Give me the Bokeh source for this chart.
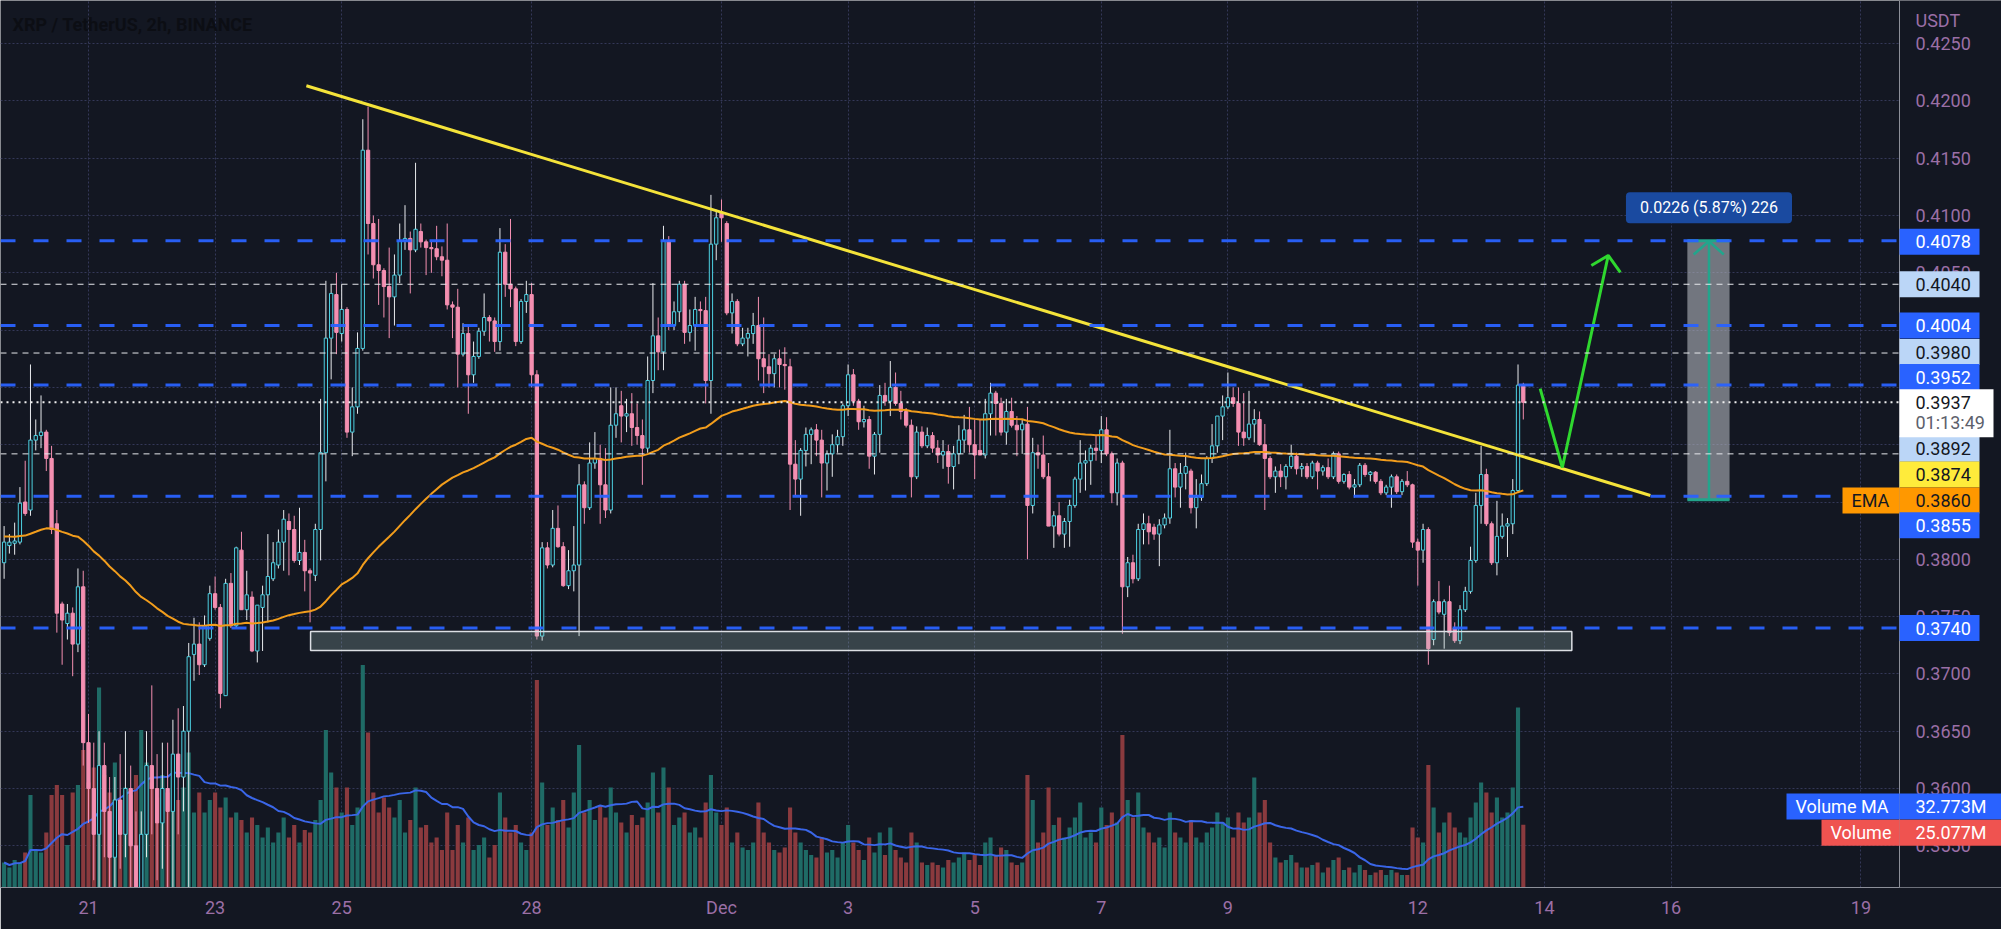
import numpy as np
import pandas as pd
from bokeh.plotting import figure
from bokeh.models import ColumnDataSource, Range1d, FixedTicker, Label, Span, BoxAnnotation
from bokeh.core.properties import value
from bokeh.embed import file_html
from bokeh.resources import INLINE

# ---------------- data (prices in 1e-4 USDT, volume in millions) ----------------
open_ = [3797,3812,3814,3815,3850,3843,3904,3908,3911,3888,
3831,3761,3744,3753,3726,3776,3640,3600,3560,3620,
3580,3540,3590,3560,3600,3550,3500,3560,3620,3600,
3570,3600,3580,3630,3610,3650,3717,3726,3708,3731,
3770,3758,3681,3779,3742,3808,3756,3767,3720,3758,
3769,3783,3795,3815,3833,3826,3799,3806,3790,3786,
3826,3893,3993,4031,3997,4018,3911,3933,3984,4157,
4093,4057,4052,4038,4029,4048,4078,4080,4070,4086,
4077,4072,4071,4064,4061,4022,4020,3979,3997,3961,
3977,3999,4011,4008,3990,4068,4040,4036,3990,4025,
4031,3961,3733,3810,3795,3827,3811,3777,3790,3795,
3865,3845,3884,3888,3865,3843,3917,3934,3925,3927,
3915,3908,3897,3956,3995,3981,4078,4004,4016,4040,
3998,4004,4018,4017,3956,4075,4103,4093,4015,4025,
3988,3993,3997,4004,3975,3968,3962,3975,3970,3968,
3883,3870,3895,3909,3913,3904,3884,3892,3900,3907,
3934,3961,3938,3920,3922,3890,3909,3943,3938,3950,
3936,3929,3917,3872,3911,3899,3908,3897,3891,3894,
3881,3892,3904,3913,3900,3895,3891,3927,3945,3936,
3911,3929,3917,3913,3918,3847,3893,3891,3872,3829,
3838,3822,3833,3847,3870,3884,3886,3897,3895,3913,
3892,3858,3884,3776,3797,3783,3826,3831,3828,3822,
3830,3836,3879,3863,3875,3877,3845,3854,3866,3888,
3899,3925,3933,3941,3936,3911,3906,3918,3922,3900,
3888,3872,3877,3872,3881,3890,3879,3881,3872,3884,
3877,3880,3872,3892,3868,3874,3863,3865,3882,3874,
3876,3868,3858,3863,3872,3859,3868,3865,3815,3808,
3826,3730,3763,3752,3763,3740,3729,3756,3772,3799,
3847,3874,3831,3797,3820,3829,3831,3860,3952]

high_ = [3829,3822,3832,3863,3886,3970,3922,3943,3913,3899,
3843,3763,3761,3758,3792,3790,3665,3640,3650,3640,
3610,3610,3630,3650,3620,3580,3580,3650,3690,3630,
3640,3640,3660,3670,3672,3727,3749,3745,3751,3777,
3785,3761,3783,3788,3811,3824,3790,3772,3760,3777,
3822,3815,3826,3843,3840,3838,3845,3817,3792,3831,
3940,4043,4040,4050,4040,4020,3950,3998,4184,4195,
4100,4097,4054,4072,4066,4093,4109,4086,4146,4093,
4079,4077,4091,4073,4093,4025,4036,4006,4004,3990,
4002,4032,4013,4011,4089,4075,4097,4038,4027,4043,
4041,3965,3815,3815,3843,3847,3815,3808,3829,3883,
3868,3902,3911,3900,3897,3950,3950,3947,3940,3945,
3936,3922,3977,4041,4011,4091,4082,4025,4043,4043,
4018,4029,4025,4029,4118,4105,4114,4095,4032,4027,
4002,4002,4015,4029,4011,3979,3979,3983,3985,3975,
3904,3897,3915,3915,3918,3913,3895,3909,3913,3936,
3970,3966,3940,3934,3925,3911,3952,3954,3973,3963,
3947,3932,3922,3916,3916,3915,3911,3904,3904,3900,
3899,3917,3926,3933,3922,3922,3940,3954,3947,3941,
3940,3941,3925,3922,3933,3906,3900,3908,3884,3842,
3850,3836,3852,3872,3904,3895,3900,3908,3925,3924,
3894,3888,3886,3802,3804,3831,3840,3838,3831,3835,
3840,3913,3884,3884,3893,3879,3870,3874,3890,3918,
3925,3943,3963,3950,3950,3945,3947,3931,3929,3918,
3890,3881,3883,3883,3900,3893,3884,3884,3886,3886,
3882,3888,3894,3894,3875,3877,3870,3884,3884,3877,
3877,3870,3865,3874,3874,3870,3877,3866,3818,3831,
3828,3765,3781,3765,3777,3745,3760,3776,3811,3858,
3899,3879,3833,3851,3840,3836,3870,3970,3954]

low_ = [3783,3805,3804,3813,3838,3838,3895,3897,3877,3822,
3736,3708,3730,3698,3719,3620,3570,3520,3480,3540,
3500,3480,3530,3540,3490,3420,3400,3540,3560,3520,
3530,3480,3500,3560,3580,3500,3694,3699,3706,3729,
3756,3670,3681,3740,3740,3756,3747,3719,3710,3720,
3745,3781,3792,3790,3786,3797,3795,3772,3745,3781,
3799,3868,3957,3979,3990,3906,3890,3927,3982,4066,
4045,4022,4011,3993,4004,4041,4070,4032,4068,4072,
4048,4050,4061,4047,4018,3993,3950,3977,3927,3954,
3975,3995,3990,3981,3982,4029,4020,3986,3988,4015,
3950,3730,3729,3792,3793,3810,3776,3774,3772,3733,
3831,3843,3879,3831,3836,3840,3906,3902,3911,3899,
3900,3865,3893,3945,3965,3965,4000,4000,4007,3988,
3990,3982,4004,3936,3927,4061,4077,4013,3997,3986,
3986,3977,3988,3956,3945,3950,3950,3950,3948,3843,
3856,3838,3881,3883,3890,3854,3860,3872,3893,3899,
3925,3934,3913,3915,3879,3874,3893,3934,3925,3934,
3922,3915,3854,3870,3897,3897,3893,3884,3879,3866,
3861,3883,3893,3893,3870,3891,3888,3908,3908,3908,
3900,3915,3890,3892,3800,3840,3879,3870,3829,3810,
3820,3810,3811,3845,3858,3860,3865,3886,3884,3890,
3849,3847,3735,3767,3779,3781,3813,3813,3817,3794,
3827,3831,3854,3845,3861,3840,3827,3851,3864,3884,
3893,3904,3931,3933,3899,3899,3904,3902,3899,3843,
3870,3858,3863,3861,3879,3874,3872,3870,3870,3861,
3873,3870,3870,3866,3866,3861,3854,3863,3872,3868,
3866,3856,3856,3845,3857,3856,3863,3810,3777,3797,
3708,3725,3752,3722,3733,3727,3726,3754,3770,3797,
3831,3829,3795,3786,3818,3802,3822,3858,3922]

close_ = [3815,3815,3816,3849,3840,3904,3908,3911,3888,3826,
3753,3747,3753,3726,3776,3640,3600,3560,3620,3580,
3540,3590,3560,3600,3550,3500,3560,3620,3600,3570,
3600,3580,3630,3610,3650,3715,3726,3708,3742,3770,
3758,3683,3779,3742,3810,3756,3769,3720,3760,3769,
3785,3797,3815,3835,3826,3799,3806,3790,3788,3826,
3893,3993,4032,3998,4018,3911,3933,3984,4157,4093,
4057,4052,4038,4029,4048,4078,4080,4070,4088,4077,
4072,4071,4064,4061,4022,4020,3979,3997,3961,3977,
3999,4011,4008,3990,4068,4040,4036,3990,4025,4031,
3961,3733,3810,3795,3827,3811,3777,3790,3795,3865,
3845,3884,3888,3865,3843,3917,3927,3925,3927,3915,
3908,3897,3956,3995,3981,4078,4004,4016,4040,3998,
4004,4018,4017,3956,4075,4098,4098,4015,4025,3988,
3993,3997,4004,3975,3968,3962,3975,3970,3969,3883,
3870,3895,3909,3913,3904,3884,3892,3900,3907,3934,
3961,3938,3920,3922,3890,3909,3943,3938,3950,3936,
3929,3917,3872,3911,3899,3908,3897,3891,3894,3881,
3892,3904,3913,3900,3891,3891,3927,3945,3936,3911,
3929,3917,3913,3918,3847,3893,3891,3872,3829,3838,
3822,3833,3847,3870,3884,3886,3897,3895,3913,3892,
3858,3884,3776,3797,3783,3826,3831,3824,3822,3830,
3836,3879,3863,3875,3881,3845,3854,3866,3888,3899,
3925,3933,3941,3936,3911,3906,3918,3922,3900,3888,
3872,3877,3872,3881,3890,3879,3881,3872,3884,3877,
3880,3872,3892,3868,3874,3863,3865,3882,3874,3876,
3868,3858,3863,3872,3859,3868,3865,3815,3808,3826,
3722,3763,3754,3763,3736,3729,3756,3772,3799,3847,
3874,3831,3797,3820,3829,3831,3860,3952,3937]

volume = [10,8,11,10,14,37,15,14,22,37,
41,37,17,38,41,55,42,48,80,45,
38,50,35,40,37,45,63,50,42,36,
45,38,52,35,40,54,30,38,30,35,
38,32,36,28,30,27,22,28,25,20,
24,18,22,28,20,25,18,23,22,27,
35,63,46,40,30,40,25,32,89,62,
38,30,36,32,28,35,22,27,40,24,
25,18,20,15,30,15,25,18,28,15,
17,20,12,17,38,28,22,25,18,15,
22,83,42,25,32,27,35,24,38,57,
30,35,27,33,28,40,30,26,22,29,
25,28,34,46,30,48,40,25,28,30,
22,24,20,34,45,30,25,32,18,22,
16,15,18,34,22,18,15,14,16,32,
22,18,15,13,12,20,14,15,12,18,
25,18,15,11,20,14,22,13,24,15,
12,10,22,18,10,9,10,9,8,11,
10,12,14,11,13,9,18,20,13,16,
15,10,9,10,45,35,18,22,40,25,
28,20,24,28,34,20,22,18,32,25,
30,26,61,35,28,38,24,22,18,20,
16,30,22,20,18,27,20,18,22,24,
30,26,28,20,30,26,28,44,30,35,
18,12,10,11,13,10,8,8,9,10,
6,8,11,12,7,8,6,9,7,5,
6,7,5,7,6,5,5,24,20,18,
49,32,22,26,30,24,22,20,28,34,
42,38,30,36,28,30,40,72,25.077]

first_bar = "2022-11-19 16:00"
tick_dates = ["2022-11-21", "2022-11-23", "2022-11-25", "2022-11-28", "2022-12-01", "2022-12-03",
              "2022-12-05", "2022-12-07", "2022-12-09", "2022-12-12", "2022-12-14", "2022-12-16", "2022-12-19"]
tick_labels = ["21", "23", "25", "28", "Dec", "3", "5", "7", "9", "12", "14", "16", "19"]
price_ticks = [0.355, 0.360, 0.365, 0.370, 0.375, 0.380, 0.385, 0.390, 0.395, 0.400,
               0.405, 0.410, 0.415, 0.420, 0.425]

ema_seed = 0.3820
ema_len = 100
vol_ma_len = 20

blue_levels = [0.4078, 0.4004, 0.3952, 0.3855, 0.3740]
white_levels = [0.4040, 0.3980, 0.3892]
last_price = 0.3937
countdown = "01:13:49"

trend_x = [57.3, 312.1]
trend_y = [0.42132, 0.38557]
arrow_x = [291.2, 295.4, 304.1]
arrow_y = [0.39490, 0.38801, 0.40651]
head_x = [300.9, 304.1, 306.4]
head_y = [0.40564, 0.40651, 0.40503]
zone = dict(left=58.1, right=297.2, bottom=0.37204, top=0.37370)
meas = dict(left=319.1, right=327.1, bottom=0.3852, top=0.4078, mid=323.2)
meas_text = "0.0226 (5.87%) 226"
meas_head_x = [320.3, 323.2, 326.0]
meas_head_y = [0.40660, 0.40775, 0.40660]

# price-scale tags: (value, background, text colour, pixel shift up)
price_tags = [
    (0.4078, "#2962ff", "#ffffff", -1),
    (0.4040, "#bbd6f7", "#131722", 0),
    (0.4004, "#2962ff", "#ffffff", 0),
    (0.3980, "#bbd6f7", "#131722", 1),
    (0.3952, "#2962ff", "#ffffff", 8),
    (0.3892, "#bbd6f7", "#131722", 5),
    (0.3874, "#ffeb3b", "#131722", 0),
    (0.3860, "#ff9800", "#131722", -10),
    (0.3855, "#2962ff", "#ffffff", -29),
    (0.3740, "#2962ff", "#ffffff", 0),
]
vol_ma_value = 32.773
vol_last_value = 25.077

# ---------------- derived ----------------
n = min(len(open_), len(high_), len(low_), len(close_), len(volume))
o = np.array(open_[:n]) / 1e4
h = np.array(high_[:n]) / 1e4
l = np.array(low_[:n]) / 1e4
c = np.array(close_[:n]) / 1e4
v = np.array(volume[:n], dtype=float)
x = np.arange(n, dtype=float)
up = c >= o

alpha = 2.0 / (ema_len + 1)
ema = []
e = ema_seed
for cc in c:
    e = e + alpha * (cc - e)
    ema.append(e)
vma = [float(np.mean(v[max(0, k - vol_ma_len + 1):k + 1])) for k in range(n)]

start = pd.Timestamp(first_bar)
bar = pd.Timedelta(hours=2)
tick_pos = [int(round((pd.Timestamp(d) - start) / bar)) for d in tick_dates]

BG = "#131722"
CYAN = "#4dd0e1"
PINK = "#f48fb1"
PURPLE = "#9b6fa6"
BLUE = "#2962ff"
AXIS = "#8c8f99"
W, FH, BOTTOM = 2001, 887, 42
PX_PER_BAR = 5.275
BAR0_PX = 3.6
PX_PER_PRICE = 11460.0
PX_PER_VOL = 2.5
PANE_W = 1899                      # price pane width; the rest is the price scale
Y_TOP = 0.41 + 215 / PX_PER_PRICE
Y_BOT = Y_TOP - FH / PX_PER_PRICE


def px_x(px):
    return (px - BAR0_PX) / PX_PER_BAR


AXIS_X = px_x(PANE_W)

p = figure(frame_width=W, frame_height=FH,
           x_range=Range1d(px_x(0), px_x(W)), y_range=Range1d(Y_BOT, Y_TOP),
           output_backend="svg", toolbar_location=None, y_axis_location=None,
           min_border_left=0, min_border_top=0, min_border_right=0, min_border_bottom=BOTTOM,
           background_fill_color=BG, border_fill_color=BG, outline_line_color=None)
p.extra_y_ranges = {"vol": Range1d(0, FH / PX_PER_VOL)}

# grid
p.xgrid.ticker = FixedTicker(ticks=tick_pos)
p.ygrid.ticker = FixedTicker(ticks=price_ticks)
for g in (p.xgrid, p.ygrid):
    g.grid_line_color = "#343858"
    g.grid_line_dash = "2 2"
    g.grid_line_width = 1

# time axis
xa = p.xaxis[0]
xa.ticker = FixedTicker(ticks=tick_pos)
xa.major_label_overrides = {t: lab for t, lab in zip(tick_pos, tick_labels)}
xa.major_label_text_color = PURPLE
xa.major_label_text_font = "Roboto"
xa.major_label_text_font_size = "18px"
xa.major_tick_line_color = None
xa.minor_tick_line_color = None
xa.major_tick_out = 0
xa.major_tick_in = 0
xa.axis_line_color = AXIS
xa.major_label_standoff = 9

# volume
vol_colors = ["#1f6b66" if u else "#8a3a3e" for u in up]
p.vbar(x=x, width=0.78, top=v, bottom=0, y_range_name="vol",
       fill_color=vol_colors, line_color=None)
p.line(x, vma, y_range_name="vol", line_color="#3a66e8", line_width=2)

# candles
src_up = ColumnDataSource(dict(x=x[up], o=o[up], h=h[up], l=l[up], c=c[up]))
src_dn = ColumnDataSource(dict(x=x[~up], o=o[~up], h=h[~up], l=l[~up], c=c[~up]))
p.segment(x0="x", y0="l", x1="x", y1="h", source=src_up, line_color="#e8eaed", line_width=1)
p.segment(x0="x", y0="l", x1="x", y1="h", source=src_dn, line_color=PINK, line_width=1)
p.vbar(x="x", width=0.62, top="c", bottom="o", source=src_up, fill_color=BG, line_color=CYAN, line_width=1)
p.vbar(x="x", width=0.62, top="o", bottom="c", source=src_dn, fill_color=PINK, line_color=PINK, line_width=1)

# EMA
p.line(x, ema, line_color="#f29d1c", line_width=2)

# support zone
p.quad(left=[zone["left"]], right=[zone["right"]], bottom=[zone["bottom"]], top=[zone["top"]],
       fill_color="#a5c8bf", fill_alpha=0.25, line_color="#dcdfe4", line_width=1.5)

# levels
for lv in white_levels:
    p.add_layout(Span(location=lv, dimension="width", line_color="#e6e8ec", line_width=1, line_dash="6 5"))
p.add_layout(Span(location=last_price, dimension="width", line_color="#f0f0f0", line_width=2, line_dash="2 4"))
for lv in blue_levels:
    p.add_layout(Span(location=lv, dimension="width", line_color=BLUE, line_alpha=0.95, line_width=3, line_dash="15 18"))

# trend line and projection arrow
p.line(trend_x, trend_y, line_color="#f4e33a", line_width=3)
p.line(arrow_x, arrow_y, line_color="#2fd82f", line_width=3)
p.line(head_x, head_y, line_color="#2fd82f", line_width=3)

# measurement
p.quad(left=[meas["left"]], right=[meas["right"]], bottom=[meas["bottom"]], top=[meas["top"]],
       fill_color="#b2b5be", fill_alpha=0.6, line_color=None)
p.segment(x0=[meas["left"], meas["left"]], x1=[meas["right"], meas["right"]],
          y0=[meas["bottom"], meas["top"]], y1=[meas["bottom"], meas["top"]], line_color="#22a58c", line_width=3)
p.segment(x0=[meas["mid"]], x1=[meas["mid"]], y0=[meas["bottom"]], y1=[meas["top"]], line_color="#22a58c", line_width=2.5)
p.line(meas_head_x, meas_head_y, line_color="#22a58c", line_width=2.5)
p.add_layout(Label(x=meas["mid"], y=meas["top"] + 33 / PX_PER_PRICE, text=meas_text, text_align="center",
                   text_baseline="middle", text_font="Roboto", text_font_size="16px", text_color="#ffffff",
                   background_fill_color="#1a4aa0",
                   padding=dict(left=14, right=14, top=6, bottom=6), border_radius=4))

# ---------------- price scale pane (right) ----------------
p.add_layout(BoxAnnotation(left=AXIS_X, fill_color=BG, fill_alpha=1.0, line_color=None))
p.add_layout(Span(location=AXIS_X, dimension="height", line_color=AXIS, line_width=1))
scale_txt = p.text(x=[AXIS_X] * len(price_ticks), y=price_ticks, text=[f"{t:.4f}" for t in price_ticks],
                   x_offset=16, text_align="left", text_baseline="middle",
                   text_font=value("Roboto"), text_font_size="18px", text_color=PURPLE)
scale_txt.level = "overlay"


def tag(text, yv, bg, fg, left_px, right_px, text_px, up_px=0.0, dn_px=None, rng=None, scale=PX_PER_PRICE,
        font="18px"):
    dn = 13 if dn_px is None else dn_px
    box = BoxAnnotation(left=px_x(left_px), right=px_x(right_px),
                        bottom=yv - dn / scale, top=yv + (13 if up_px == 0 else up_px) / scale,
                        fill_color=bg, fill_alpha=1.0, line_color=None, level="overlay")
    lab = Label(x=px_x(text_px), y=yv, text=text, text_align="left", text_baseline="middle",
                text_font="Roboto", text_font_size=font, text_color=fg, level="overlay")
    if rng:
        box.y_range_name = rng
        lab.y_range_name = rng
    p.add_layout(box)
    p.add_layout(lab)


for val, bg, fg, shift in price_tags:
    yv = val + shift / PX_PER_PRICE
    tag(f"{val:.4f}", yv, bg, fg, PANE_W, PANE_W + 80, PANE_W + 16)
    if bg == "#ff9800":
        tag("EMA", yv, bg, fg, PANE_W - 57, PANE_W, PANE_W - 48)

# current price tag (two lines on one white box)
tag(f"{last_price:.4f}", last_price, "#ffffff", "#131722", PANE_W, PANE_W + 94, PANE_W + 16,
    up_px=13, dn_px=35)
p.add_layout(Label(x=px_x(PANE_W + 16), y=last_price - 20 / PX_PER_PRICE, text=countdown,
                   text_align="left", text_baseline="middle", text_font="Roboto",
                   text_font_size="18px", text_color="#5d606b", level="overlay"))

# volume tags
vma_y = vol_ma_value - 1 / PX_PER_VOL
vol_y = vol_last_value - 8 / PX_PER_VOL
tag(f"{vol_ma_value:.3f}M", vma_y, BLUE, "#ffffff", PANE_W, W, PANE_W + 16, rng="vol", scale=PX_PER_VOL)
tag("Volume MA", vma_y, BLUE, "#ffffff", PANE_W - 113, PANE_W, PANE_W - 104, rng="vol", scale=PX_PER_VOL)
tag(f"{vol_last_value:.3f}M", vol_y, "#ef5350", "#ffffff", PANE_W, W, PANE_W + 16, rng="vol", scale=PX_PER_VOL)
tag("Volume", vol_y, "#ef5350", "#ffffff", PANE_W - 78, PANE_W, PANE_W - 69, rng="vol", scale=PX_PER_VOL)

# currency and title
p.add_layout(Label(x=px_x(PANE_W + 16), y=Y_TOP - 20 / PX_PER_PRICE, text="USDT", text_align="left",
                   text_baseline="middle", text_font="Roboto", text_font_size="18px", text_color=PURPLE,
                   level="overlay"))
p.add_layout(Label(x=px_x(12), y=Y_TOP - 24 / PX_PER_PRICE, text="XRP / TetherUS, 2h, BINANCE",
                   text_align="left", text_baseline="middle", text_font="Roboto", text_font_style="bold",
                   text_font_size="18px", text_color="#0c0e14"))

open("out.html", "w").write(file_html(p, INLINE))
